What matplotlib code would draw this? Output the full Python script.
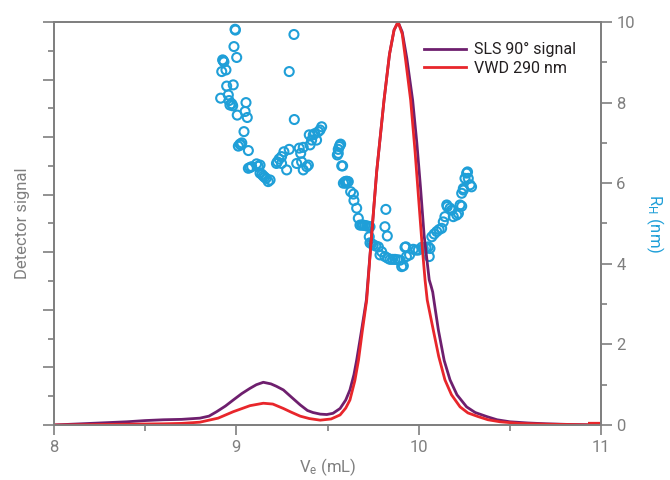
import matplotlib
matplotlib.use('Agg')
import matplotlib.pyplot as plt
import numpy as np
from matplotlib.ticker import FixedLocator, MultipleLocator

plt.rcParams['font.family'] = ['Roboto', 'DejaVu Sans']
plt.rcParams['mathtext.default'] = 'regular'

# SLS 90 deg signal (scaled to 0-10)
sls_x = [8.0, 8.1, 8.2, 8.3, 8.4, 8.5, 8.6, 8.7, 8.8, 8.85, 8.892, 8.94, 8.983, 9.03, 9.075,
         9.11, 9.148, 9.19, 9.22, 9.258, 9.3, 9.35, 9.39, 9.42, 9.46, 9.496, 9.53, 9.569,
         9.6, 9.623, 9.645, 9.66, 9.685, 9.713, 9.74, 9.77, 9.81, 9.84, 9.865, 9.887, 9.91,
         9.935, 9.967, 9.99, 10.01, 10.03, 10.058, 10.068, 10.077, 10.09, 10.108, 10.14,
         10.172, 10.21, 10.263, 10.31, 10.373, 10.43, 10.5, 10.6, 10.7, 10.85, 11.0]
sls_y = [0.0, 0.02, 0.04, 0.06, 0.08, 0.11, 0.13, 0.14, 0.17, 0.22, 0.33, 0.47, 0.62, 0.78, 0.91,
         1.0, 1.06, 1.02, 0.96, 0.87, 0.70, 0.50, 0.36, 0.31, 0.27, 0.26, 0.29, 0.41,
         0.62, 0.87, 1.25, 1.61, 2.3, 3.1, 4.6, 6.3, 8.06, 9.2, 9.8, 10.0, 9.75,
         9.1, 8.06, 7.0, 5.9, 4.7, 3.6, 3.45, 3.3, 2.9, 2.36, 1.6,
         1.12, 0.75, 0.45, 0.31, 0.21, 0.13, 0.08, 0.05, 0.03, 0.01, 0.0]

# VWD 290 nm signal
vwd_x = [8.0, 8.2, 8.4, 8.6, 8.7, 8.8, 8.9, 8.983, 9.075, 9.148, 9.2, 9.258, 9.3, 9.35, 9.4,
         9.46, 9.52, 9.569, 9.6, 9.623, 9.65, 9.67, 9.69, 9.715, 9.74, 9.77, 9.81, 9.84,
         9.865, 9.887, 9.91, 9.93, 9.956, 9.98, 10.0, 10.02, 10.035, 10.047, 10.08, 10.11,
         10.144, 10.18, 10.227, 10.27, 10.325, 10.38, 10.446, 10.55, 10.7, 10.85, 11.0]
vwd_y = [0.0, 0.01, 0.02, 0.03, 0.04, 0.07, 0.17, 0.33, 0.48, 0.54, 0.52, 0.41, 0.32, 0.22, 0.16,
         0.12, 0.15, 0.25, 0.42, 0.62, 1.1, 1.61, 2.3, 3.1, 4.6, 6.3, 8.06, 9.2,
         9.8, 10.0, 9.7, 9.0, 8.06, 6.8, 5.6, 4.4, 3.6, 3.1, 2.36, 1.7,
         1.12, 0.75, 0.45, 0.3, 0.21, 0.13, 0.08, 0.04, 0.02, 0.01, 0.0]
vwd_tail_x = [10.93, 10.96, 10.995]
vwd_tail_y = [0.0, 0.0, 0.0]

# hydrodynamic radius R_H (nm)
rh_x = [8.993, 8.995, 8.987, 9.002, 8.925, 8.932, 8.928, 8.92, 8.943, 8.947, 8.983, 8.914,
        8.956, 8.960, 8.965, 8.98, 8.975, 9.053, 9.048, 9.005, 9.06, 9.042, 9.02, 9.011,
        9.03, 9.025, 9.066, 9.066, 9.075, 9.084, 9.111, 9.13, 9.12, 9.13, 9.14, 9.148,
        9.155, 9.175, 9.163, 9.185, 9.22, 9.316, 9.29, 9.318, 9.468, 9.459, 9.45, 9.422,
        9.43, 9.40, 9.44, 9.413, 9.404, 9.367, 9.345, 9.353, 9.29, 9.261, 9.248, 9.225,
        9.248, 9.276, 9.331, 9.358, 9.367, 9.386, 9.395, 9.235, 9.569, 9.572, 9.565, 9.559,
        9.554, 9.559, 9.583, 9.578, 9.587, 9.596, 9.605, 9.614, 9.600, 9.627, 9.642, 9.645,
        9.66, 9.669, 9.678, 9.687, 9.696, 9.705, 9.715, 9.724, 9.733, 9.82, 9.815, 9.828,
        9.729, 9.733, 9.742, 9.751, 9.765, 9.779, 9.797, 9.788, 9.815, 9.83, 9.843, 9.857,
        9.87, 9.884, 9.898, 9.907, 9.916, 9.925, 9.93, 9.933, 9.95, 9.97, 9.985, 9.998,
        10.017, 10.025, 10.04, 10.053, 10.058, 10.062, 10.072, 10.085, 10.099, 10.112,
        10.126, 10.135, 10.144, 10.154, 10.157, 10.172, 10.18, 10.19, 10.209, 10.218,
        10.227, 10.236, 10.236, 10.245, 10.245, 10.254, 10.263, 10.272, 10.282, 10.29, 10.268]
rh_y = [9.82, 9.80, 9.39, 9.12, 9.06, 9.01, 9.04, 8.77, 8.81, 8.41, 8.44, 8.11,
        8.19, 8.05, 7.94, 7.92, 7.97, 8.0, 7.78, 7.69, 7.63, 7.28, 6.97, 6.92,
        7.0, 6.95, 6.81, 6.37, 6.39, 6.41, 6.48, 6.45, 6.42, 6.25, 6.22, 6.18,
        6.15, 6.04, 6.12, 6.08, 6.49, 9.69, 8.77, 7.58, 7.40, 7.32, 7.28, 7.20,
        7.23, 7.20, 7.07, 7.07, 6.95, 6.89, 6.87, 6.74, 6.84, 6.78, 6.66, 6.53,
        6.49, 6.33, 6.49, 6.53, 6.33, 6.41, 6.45, 6.60, 6.95, 6.97, 6.91, 6.84,
        6.70, 6.74, 6.43, 6.43, 6.0, 6.04, 6.05, 6.04, 6.00, 5.79, 5.73, 5.57,
        5.38, 5.13, 4.96, 4.96, 4.96, 4.95, 4.94, 4.93, 4.92, 5.35, 4.92, 4.69,
        4.67, 4.52, 4.50, 4.47, 4.44, 4.42, 4.30, 4.22, 4.18, 4.14, 4.11, 4.11,
        4.11, 4.10, 4.09, 3.93, 3.95, 4.41, 4.42, 4.18, 4.22, 4.36, 4.34, 4.34,
        4.41, 4.38, 4.40, 4.42, 4.18, 4.38, 4.67, 4.74, 4.80, 4.85,
        4.88, 5.04, 5.17, 5.46, 5.42, 5.38, 5.33, 5.17, 5.21, 5.25,
        5.46, 5.43, 5.75, 5.83, 5.87, 6.12, 6.25, 6.12, 5.96, 5.91, 6.28]

gray = '#7f7f7f'
purple = '#6e1f6e'
red = '#e8262b'
blue = '#1f9fd8'

fig = plt.figure(figsize=(6.7, 4.8), dpi=100)
ax = fig.add_axes([54 / 670, 55 / 480, 547 / 670, 403 / 480])
ax2 = ax.twinx()
ax.set_zorder(ax2.get_zorder() + 1)
ax.patch.set_visible(False)

ax2.scatter(rh_x, rh_y, s=42, facecolors='none', edgecolors=blue, linewidths=1.5)

ax.plot(sls_x, sls_y, color=purple, lw=2.0, label='SLS 90° signal')
ax.plot(vwd_x, vwd_y, color=red, lw=2.0, label='VWD 290 nm')
ax.plot(vwd_tail_x, vwd_tail_y, color=red, lw=4.5, solid_capstyle='butt')

for a in (ax, ax2):
    a.set_xlim(8, 11)
    a.set_ylim(0, 10)
    for s in a.spines.values():
        s.set_color(gray)
        s.set_linewidth(1.3)

ax.xaxis.set_major_locator(MultipleLocator(1))
ax.xaxis.set_minor_locator(MultipleLocator(0.5))
ax.yaxis.set_major_locator(FixedLocator(np.linspace(0, 10, 8)))
ax.yaxis.set_minor_locator(FixedLocator(np.linspace(0, 10, 15)))
ax.set_yticklabels([])
ax.tick_params(axis='y', which='major', direction='out', length=8, width=1.2, color=gray)
ax.tick_params(axis='y', which='minor', direction='out', length=4, width=1.2, color=gray)
ax.tick_params(axis='x', which='major', direction='out', length=7, width=1.2, color=gray,
               labelcolor=gray, labelsize=12, pad=4)
ax.tick_params(axis='x', which='minor', direction='out', length=4, width=1.2, color=gray)

ax2.yaxis.set_major_locator(MultipleLocator(2))
ax2.yaxis.set_minor_locator(MultipleLocator(1))
ax2.tick_params(axis='y', which='major', direction='out', length=8, width=1.2, color=gray,
                labelcolor=gray, labelsize=12, pad=3)
ax2.tick_params(axis='y', which='minor', direction='out', length=4, width=1.2, color=gray)

# ticks along the top spine
ax2.tick_params(axis='x', which='both', top=True, bottom=False, direction='in',
                length=4, width=1.2, color=gray, labeltop=False)
ax2.xaxis.set_major_locator(MultipleLocator(1))
ax2.xaxis.set_minor_locator(MultipleLocator(0.5))

ax.set_xlabel(r'V$_{e}$ (mL)', color=gray, fontsize=12, labelpad=1)
ax.set_ylabel('Detector signal', color=gray, fontsize=12, labelpad=6)
ax2.set_ylabel(r'R$_{H}$ (nm)', color=blue, fontsize=12, rotation=270, labelpad=22)

leg = ax.legend(loc='upper right', bbox_to_anchor=(0.98, 0.985), frameon=False,
                fontsize=11.5, handlelength=2.6, handletextpad=0.5, labelspacing=0.2)
for t in leg.get_texts():
    t.set_color('#231f20')

fig.savefig('out.png', dpi=100)
